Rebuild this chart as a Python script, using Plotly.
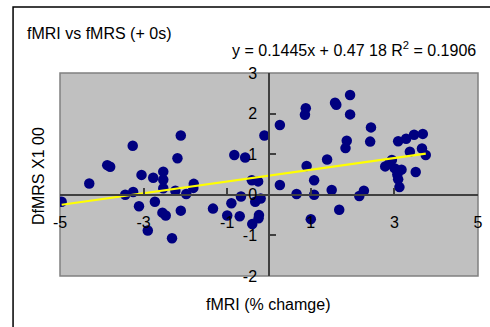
import plotly.graph_objects as go

# ---- data ----
fmri = [-4.96, -4.30, -3.87, -3.80, -3.26, -3.44, -3.25, -3.11, -3.05, -2.90,
        -2.77, -2.73, -2.53, -2.53, -2.53, -2.55, -2.47, -2.32, -2.24, -2.19,
        -2.11, -2.11, -1.98, -1.80, -1.81, -1.34, -1.00, -0.90, -0.83, -0.57,
        -0.70, -0.67, -0.41, -0.26, -0.33, -0.20, -0.24, -0.25, -0.40, -0.11,
        0.26, 0.88, 0.86, 1.58, 1.61, 1.94, 1.94, 1.86, 1.83, 2.44,
        2.42, 1.39, 0.90, 1.08, 0.26, 0.66, 1.08, 1.50, 2.27, 2.16,
        1.68, 1.00, 3.09, 3.28, 3.47, 3.68, 3.37, 3.66, 3.75, 3.51,
        2.78, 2.94, 3.01, 3.17, 3.07, 3.09, 3.12, 2.88]
dfmrs = [-0.17, 0.28, 0.73, 0.69, 1.21, 0.00, 0.07, -0.28, 0.49, -0.88,
         0.42, -0.17, 0.57, 0.37, 0.16, -0.44, -0.51, -1.07, 0.10, 0.90,
         1.46, -0.39, 0.02, 0.27, 0.17, -0.34, -0.51, -0.21, 0.98, 0.92,
         -0.53, -0.04, 0.36, 0.33, -0.17, -0.09, -0.50, -0.58, -0.72, 1.46,
         1.72, 2.13, 1.97, 2.27, 2.22, 2.46, 1.98, 1.33, 1.15, 1.66,
         1.31, 0.87, 0.71, 0.36, 0.24, 0.02, 0.00, 0.12, 0.10, -0.03,
         -0.37, -0.60, 1.32, 1.38, 1.48, 1.50, 1.06, 1.14, 0.98, 0.56,
         0.70, 0.86, 0.65, 0.62, 0.50, 0.38, 0.19, 0.78]
slope = 0.1445
intercept = 0.4718
x_ticks = [-5, -3, -1, 1, 3, 5]
y_ticks = [-2, -1, 0, 1, 2, 3]

title_text = "fMRI vs fMRS (+ 0s)"
eq_text = "y = 0.1445x + 0.47 18 R<sup>2</sup> = 0.1906"
x_title = "fMRI (% chamge)"
y_title = "DfMRS X1 00"

FONT = "Liberation Sans, Arial, sans-serif"

# plot-area pixel geometry
W, H = 490, 327
L, R, T, B = 60, 11.5, 73, 51
pw = W - L - R
ph = H - T - B


def px(x):
    return (x - L) / pw


def py(y):
    return (H - B - y) / ph


trend_x = [min(fmri), max(fmri)]
trend_y = [slope * v + intercept for v in trend_x]

fig = go.Figure()
fig.add_trace(go.Scatter(x=fmri, y=dfmrs, mode="markers",
                         marker=dict(size=10.5, color="#000080", line=dict(width=0)),
                         showlegend=False, hoverinfo="x+y"))
fig.add_trace(go.Scatter(x=trend_x, y=trend_y, mode="lines",
                         line=dict(color="#FFFF00", width=2.2),
                         showlegend=False, hoverinfo="skip"))

axis_common = dict(showgrid=False, zeroline=False, showline=True,
                   linecolor="#404040", linewidth=1.5,
                   ticks="inside", ticklen=6, tickwidth=1.5, tickcolor="#404040",
                   automargin=False,
                   tickfont=dict(family=FONT, size=16, color="#000000"))

fig.update_layout(
    width=W, height=H,
    autosize=False,
    margin=dict(l=L, r=R, t=T, b=B, pad=0, autoexpand=False),
    paper_bgcolor="#FFFFFF",
    plot_bgcolor="#C0C0C0",
    showlegend=False,
    xaxis=dict(range=[-5, 5], tickmode="array", tickvals=x_ticks,
               ticktext=[str(v) for v in x_ticks],
               anchor="free", position=0.4, side="bottom",
               ticklabelstandoff=13, **axis_common),
    yaxis=dict(range=[-2, 3], tickmode="array", tickvals=y_ticks,
               ticktext=[str(v) for v in y_ticks],
               anchor="free", position=0.5, side="left",
               ticklabelstandoff=8, **axis_common),
    shapes=[
        dict(type="rect", xref="paper", yref="paper", x0=0, x1=1, y0=0, y1=1,
             line=dict(color="#808080", width=1.5), layer="below"),
        dict(type="rect", xref="paper", yref="paper",
             x0=px(13), x1=px(W + 20), y0=py(H + 20), y1=py(7),
             line=dict(color="#000000", width=1.5), layer="above"),
    ],
    annotations=[
        dict(text=title_text, xref="paper", yref="paper", x=px(25), y=py(33),
             xanchor="left", yanchor="middle", showarrow=False,
             font=dict(family=FONT, size=16, color="#000000")),
        dict(text=eq_text, xref="paper", yref="paper", x=px(478), y=py(49),
             xanchor="right", yanchor="middle", showarrow=False,
             font=dict(family=FONT, size=16, color="#000000")),
        dict(text=x_title, xref="paper", yref="paper", x=px(268.5), y=py(304),
             xanchor="center", yanchor="middle", showarrow=False,
             font=dict(family=FONT, size=16, color="#000000")),
        dict(text=y_title, xref="paper", yref="paper", x=px(38), y=py(176),
             xanchor="center", yanchor="middle", showarrow=False, textangle=-90,
             font=dict(family=FONT, size=16, color="#000000")),
    ],
)

fig.write_html("out.html", config={"displayModeBar": False},
               post_script="document.body.style.margin='0px';document.body.style.overflow='hidden';")
